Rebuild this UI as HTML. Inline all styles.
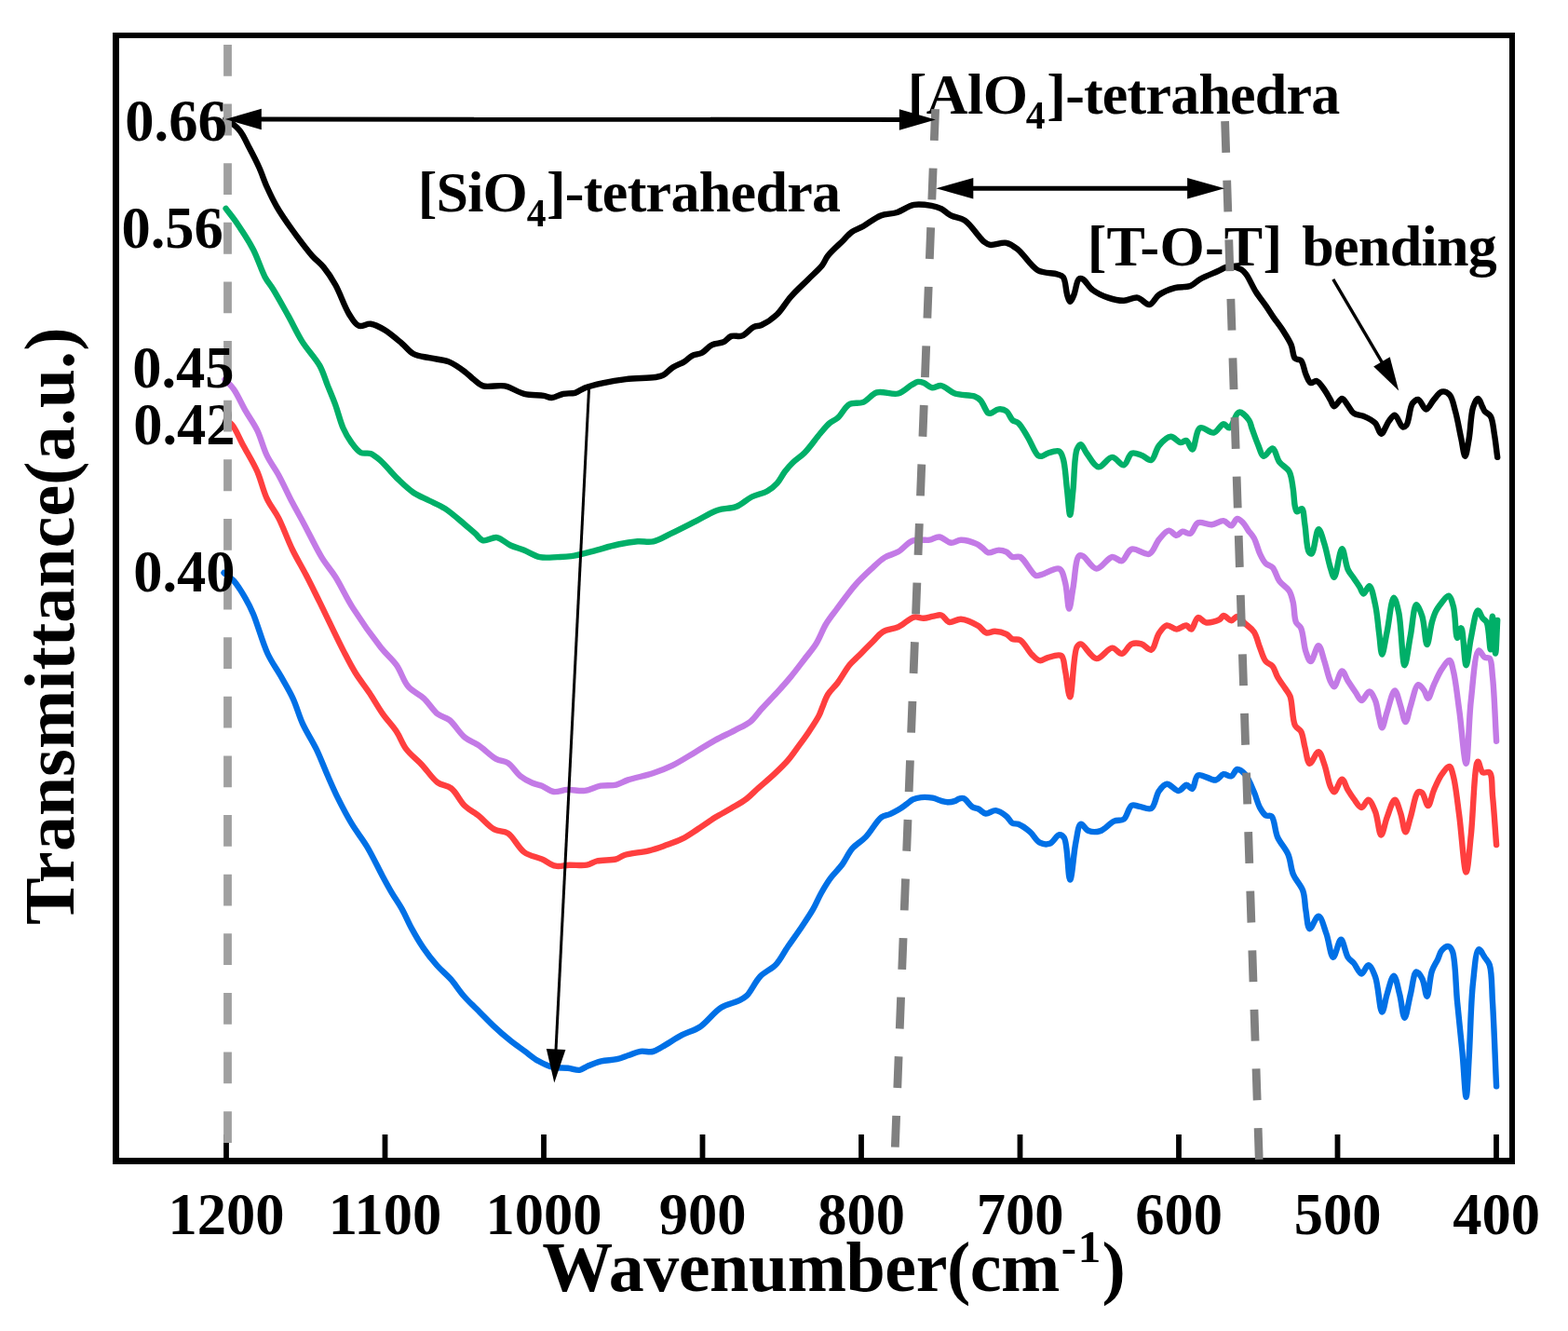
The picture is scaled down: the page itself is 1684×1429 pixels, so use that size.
<!DOCTYPE html><html><head><meta charset="utf-8"><title>FTIR spectra</title><style>html,body{margin:0;padding:0;background:#fff;}svg{display:block;}</style></head><body>
<svg width="1684" height="1429" viewBox="0 0 1684 1429">
<rect x="0" y="0" width="1684" height="1429" fill="#fff"/>
<g fill="#000"><rect x="121" y="35" width="7" height="1215"/><rect x="121" y="1243" width="1506" height="7"/><rect x="121" y="35" width="1506" height="6"/><rect x="1621" y="35" width="6" height="1215"/>
<rect x="240.1" y="1218" width="5.8" height="26"/>
<rect x="410.6" y="1218" width="5.8" height="26"/>
<rect x="581.1" y="1218" width="5.8" height="26"/>
<rect x="751.6" y="1218" width="5.8" height="26"/>
<rect x="922.1" y="1218" width="5.8" height="26"/>
<rect x="1092.6" y="1218" width="5.8" height="26"/>
<rect x="1263.1" y="1218" width="5.8" height="26"/>
<rect x="1433.6" y="1218" width="5.8" height="26"/>
<rect x="1604.1" y="1218" width="5.8" height="26"/>
</g>
<g fill="none" stroke-width="6.4" stroke-linejoin="round" stroke-linecap="round">
<path stroke="#0070E6" d="M240.5,615.0C244.0,617.8 247.6,619.8 251.0,623.5C255.4,628.3 260.0,636.2 263.6,642.4C266.9,648.1 269.0,652.2 272.0,659.2C276.6,670.0 281.7,689.4 287.3,701.5C291.8,711.2 297.3,718.4 302.0,726.7C306.4,734.5 310.8,741.6 314.6,749.8C318.6,758.4 321.0,768.1 325.1,777.1C329.3,786.3 335.3,795.0 339.8,804.4C344.4,813.9 348.3,824.6 352.4,833.8C356.0,842.0 359.0,848.9 362.9,856.9C367.3,865.7 372.3,875.4 377.6,884.2C382.8,892.9 389.1,900.4 394.4,909.3C400.1,918.9 405.7,930.9 410.5,939.9C414.3,947.0 417.4,952.7 421.0,958.8C424.4,964.6 428.1,969.6 431.5,975.6C435.2,982.1 438.2,989.7 442.0,996.6C445.9,1003.7 450.0,1010.9 454.6,1017.6C459.1,1024.2 464.2,1030.7 469.3,1036.5C474.0,1041.9 479.3,1045.8 484.0,1051.2C489.1,1056.9 493.4,1064.0 498.7,1070.0C503.9,1075.9 510.1,1081.5 515.5,1086.9C520.6,1092.0 525.1,1096.8 530.2,1101.6C535.5,1106.6 541.3,1111.7 547.0,1116.3C552.5,1120.8 558.4,1124.8 563.8,1128.8C568.8,1132.5 573.4,1136.5 578.5,1139.3C583.3,1142.0 588.0,1144.4 593.2,1145.6C598.5,1146.9 604.8,1146.1 610.0,1146.7C614.5,1147.2 618.8,1149.3 622.5,1148.8C625.7,1148.3 627.7,1146.0 631.0,1144.6C635.2,1142.8 640.5,1140.5 645.6,1139.3C650.9,1138.0 657.3,1138.4 662.4,1137.2C667.0,1136.2 670.8,1134.4 675.0,1133.0C679.2,1131.6 683.3,1129.5 687.6,1128.8C691.9,1128.1 696.9,1129.9 701.0,1129.0C704.8,1128.1 707.5,1126.0 711.5,1123.8C717.4,1120.6 725.6,1114.8 732.5,1111.2C738.9,1107.9 745.1,1106.9 751.4,1102.8C759.1,1097.8 766.7,1086.6 774.5,1081.8C780.8,1077.9 788.4,1076.9 793.4,1074.4C796.9,1072.7 798.9,1071.9 801.8,1069.2C806.5,1064.8 810.9,1054.0 816.5,1048.2C821.5,1043.0 828.5,1040.7 833.3,1035.6C838.3,1030.3 841.5,1023.1 845.9,1016.7C850.6,1009.9 855.9,1002.6 860.6,995.7C865.0,989.1 869.6,982.5 873.2,976.2C876.5,970.5 878.5,965.0 881.6,959.5C884.8,953.8 888.2,948.0 892.1,942.7C895.9,937.5 900.8,933.2 904.6,928.0C908.5,922.7 911.0,916.1 915.2,911.2C919.4,906.3 925.0,903.6 929.8,898.6C935.5,892.7 941.4,881.2 946.7,877.4C949.8,875.1 952.7,875.4 955.7,874.1C958.7,872.8 961.7,871.3 964.6,869.6C967.7,867.8 970.8,865.4 973.6,863.4C976.0,861.7 977.8,859.6 980.3,858.4C983.0,857.1 986.0,856.4 989.3,856.1C993.1,855.7 997.7,856.0 1001.6,856.7C1005.2,857.4 1008.6,859.3 1011.7,860.1C1014.1,860.7 1016.2,861.2 1018.4,861.2C1020.6,861.2 1023.0,860.8 1025.1,860.1C1027.1,859.5 1028.9,857.7 1030.7,857.3C1032.2,856.9 1033.6,856.6 1035.2,857.3C1037.9,858.4 1041.1,864.3 1044.1,866.2C1046.3,867.6 1048.5,867.4 1050.8,868.5C1053.4,869.7 1055.8,873.1 1058.7,873.5C1061.9,873.9 1065.8,869.8 1069.4,870.1C1073.3,870.5 1077.9,873.9 1081.0,876.4C1083.7,878.5 1084.9,882.4 1087.3,883.7C1089.2,884.8 1091.3,883.9 1093.6,884.8C1097.2,886.2 1102.4,889.9 1106.2,893.2C1110.1,896.5 1112.8,902.7 1116.7,904.7C1119.9,906.3 1123.9,906.9 1127.2,905.8C1131.0,904.6 1134.7,896.6 1137.7,896.3C1139.7,896.1 1141.4,897.2 1142.9,899.5C1146.9,905.7 1147.0,944.6 1149.2,944.6C1151.3,944.6 1153.1,914.7 1155.5,903.7C1157.1,896.1 1157.9,885.7 1160.8,884.8C1163.0,884.2 1165.8,890.8 1169.2,892.1C1172.8,893.4 1177.6,893.4 1181.8,892.1C1186.8,890.5 1191.8,883.6 1196.5,881.6C1200.1,880.0 1204.1,881.6 1207.0,879.5C1210.7,876.8 1211.9,866.5 1215.4,864.8C1217.9,863.6 1220.7,865.4 1223.8,865.9C1227.6,866.5 1233.1,869.8 1236.4,868.0C1240.6,865.7 1241.4,853.7 1244.8,849.1C1247.3,845.7 1250.0,842.0 1253.2,841.7C1256.9,841.3 1262.1,849.3 1265.8,849.1C1268.9,848.9 1271.6,842.9 1274.2,842.8C1276.4,842.7 1278.7,847.5 1280.5,847.0C1283.1,846.2 1282.9,834.1 1286.7,832.3C1290.9,830.3 1300.7,838.4 1305.6,837.5C1309.2,836.8 1311.1,831.8 1314.0,831.2C1316.7,830.7 1320.0,834.1 1322.4,833.3C1324.9,832.5 1326.3,826.4 1328.7,826.0C1331.2,825.6 1334.5,828.4 1337.1,831.2C1340.9,835.3 1344.1,844.1 1346.8,850.3C1349.3,856.0 1350.6,862.6 1353.1,867.1C1355.0,870.5 1357.0,874.0 1359.4,875.5C1361.3,876.6 1363.9,874.9 1365.7,876.5C1369.0,879.5 1369.0,891.7 1372.0,898.6C1375.0,905.4 1380.7,910.8 1383.5,917.5C1386.3,924.1 1386.1,932.0 1388.8,938.5C1391.4,944.9 1397.0,949.9 1399.3,956.3C1401.6,962.8 1401.2,970.4 1402.4,977.3C1403.6,984.0 1404.1,996.7 1406.6,997.2C1408.9,997.7 1413.2,983.3 1416.1,983.6C1419.3,983.9 1422.0,995.7 1424.5,1002.5C1427.3,1010.2 1429.0,1027.5 1431.8,1027.7C1434.3,1027.9 1437.6,1008.7 1440.2,1008.8C1442.8,1008.9 1444.7,1023.3 1447.6,1027.7C1449.5,1030.6 1451.7,1031.5 1453.9,1034.0C1456.6,1037.2 1459.6,1045.5 1462.3,1045.5C1464.8,1045.5 1467.3,1035.9 1469.6,1036.1C1472.2,1036.3 1474.9,1043.1 1477.0,1048.7C1480.4,1057.7 1481.8,1086.4 1484.3,1086.5C1486.1,1086.6 1487.6,1073.9 1489.6,1067.6C1491.7,1061.0 1494.6,1047.5 1496.9,1047.6C1499.2,1047.7 1501.3,1060.5 1503.2,1067.6C1505.3,1075.5 1506.6,1092.8 1508.5,1092.8C1510.4,1092.8 1512.7,1075.9 1514.8,1067.6C1516.9,1059.4 1518.2,1044.1 1521.1,1043.4C1522.9,1043.0 1525.7,1047.5 1527.4,1050.8C1529.9,1055.5 1531.0,1069.8 1532.6,1069.7C1534.5,1069.6 1535.4,1049.6 1537.9,1042.4C1539.6,1037.3 1542.4,1033.7 1544.2,1029.8C1545.8,1026.4 1546.3,1022.6 1548.4,1020.3C1550.3,1018.2 1553.7,1015.7 1555.7,1016.1C1557.5,1016.4 1558.7,1018.4 1559.9,1021.4C1563.3,1029.9 1563.3,1058.0 1565.1,1076.0C1566.8,1093.7 1568.8,1111.3 1570.4,1128.5C1572.0,1145.2 1573.4,1177.8 1574.6,1177.8C1575.8,1177.8 1576.7,1151.3 1577.7,1134.8C1579.1,1112.3 1579.6,1076.3 1582.0,1055.0C1583.6,1040.7 1584.9,1020.1 1588.2,1019.3C1590.0,1018.9 1592.5,1024.9 1594.5,1027.7C1596.4,1030.5 1598.4,1032.0 1599.8,1036.1C1602.5,1044.3 1602.0,1060.0 1603.0,1076.0C1604.5,1100.0 1605.7,1136.2 1607.1,1166.3"/>
<path stroke="#FF3F3F" d="M243.0,452.0C245.0,453.2 246.9,453.5 248.9,455.6C252.9,459.8 257.1,470.7 261.5,478.7C266.2,487.4 272.0,496.6 276.2,506.0C280.4,515.5 282.5,526.6 286.7,535.4C290.4,543.2 295.2,548.4 299.3,556.4C304.3,566.2 308.9,579.5 314.0,590.0C318.7,599.7 323.9,608.0 328.7,617.3C333.7,626.9 337.8,635.4 343.4,646.6C350.8,661.6 362.0,685.5 369.2,699.4C374.0,708.7 377.2,715.1 381.8,722.5C386.3,729.8 391.7,736.3 396.5,743.5C401.5,751.0 406.1,759.4 411.2,766.6C415.9,773.3 421.6,779.0 425.9,785.5C430.0,791.6 432.0,798.6 436.4,804.4C441.0,810.5 447.7,815.4 453.2,821.2C458.9,827.2 464.1,835.8 470.0,840.1C474.7,843.5 480.1,842.9 484.6,846.4C490.1,850.6 494.0,860.2 499.3,865.3C503.9,869.7 509.0,871.9 514.0,875.8C519.5,880.2 525.0,887.3 530.8,890.4C535.6,893.0 540.8,891.6 545.5,894.6C551.7,898.6 556.5,910.3 563.1,915.0C568.8,919.1 576.1,919.8 582.0,922.4C587.3,924.7 591.7,928.7 596.7,929.7C601.5,930.7 606.2,928.9 611.4,928.7C617.3,928.5 625.0,929.7 630.3,928.7C634.4,927.9 636.6,925.5 640.8,924.5C646.5,923.1 656.5,923.9 661.8,922.4C665.3,921.4 666.5,919.4 670.2,918.2C676.5,916.1 689.0,915.2 696.8,913.3C703.1,911.7 707.9,910.0 713.6,908.0C719.7,905.8 726.5,903.7 732.5,900.7C738.4,897.7 743.6,893.9 749.3,890.2C755.4,886.2 762.0,881.4 768.2,877.6C773.9,874.1 779.4,871.4 785.0,868.1C790.6,864.7 796.8,861.4 801.8,857.6C806.5,854.0 809.9,850.1 814.4,846.1C819.6,841.5 825.9,836.4 831.2,831.4C836.3,826.6 841.4,821.9 845.9,816.7C850.5,811.4 854.5,805.3 858.5,799.9C862.2,794.9 865.6,790.3 869.0,785.2C872.6,779.8 877.1,773.1 879.5,768.4C881.1,765.2 881.6,763.2 882.9,760.0C884.7,755.8 886.4,750.0 889.2,745.5C892.0,741.0 896.2,737.7 899.7,733.0C903.9,727.4 908.3,718.9 912.3,714.0C915.2,710.5 917.4,708.9 920.7,705.6C925.3,701.0 932.5,693.7 937.5,688.8C941.4,684.9 943.7,681.0 948.0,678.4C952.7,675.6 959.4,675.6 964.8,673.1C970.6,670.4 976.5,663.8 981.6,662.6C985.3,661.7 988.5,663.9 992.0,663.7C995.5,663.5 999.2,662.1 1002.5,661.6C1005.5,661.1 1008.4,659.7 1011.0,660.5C1014.0,661.4 1016.0,667.1 1019.3,667.9C1022.9,668.8 1027.4,664.4 1032.0,664.7C1037.7,665.1 1046.0,669.2 1050.8,672.1C1054.4,674.3 1056.1,678.6 1059.2,679.4C1062.0,680.2 1065.1,677.6 1068.4,677.7C1072.3,677.8 1077.7,679.2 1081.0,680.9C1083.6,682.2 1084.9,685.0 1087.3,686.1C1089.8,687.2 1092.9,685.6 1095.7,687.2C1100.0,689.6 1104.3,699.0 1108.3,702.9C1111.2,705.7 1113.8,708.8 1116.7,709.2C1119.4,709.6 1121.9,706.9 1125.1,706.1C1129.3,705.0 1136.6,701.9 1139.8,704.0C1143.1,706.2 1142.6,713.7 1144.0,719.7C1145.8,727.8 1147.4,748.3 1149.2,748.3C1151.6,748.2 1152.6,701.3 1156.6,694.5C1157.8,692.4 1159.0,691.3 1160.8,691.4C1164.6,691.6 1171.8,706.7 1177.6,707.1C1183.0,707.5 1189.4,695.7 1194.4,695.6C1198.3,695.5 1201.6,702.3 1204.9,701.9C1208.6,701.4 1211.5,693.0 1215.4,691.4C1218.6,690.1 1222.5,690.5 1225.9,691.4C1229.5,692.4 1233.5,698.6 1236.4,697.7C1240.1,696.6 1241.5,684.4 1244.8,679.8C1247.3,676.2 1250.0,672.1 1253.2,671.4C1256.3,670.8 1260.2,675.6 1263.7,675.6C1267.2,675.6 1271.4,671.0 1274.2,671.4C1276.3,671.7 1277.7,675.9 1279.4,675.6C1281.9,675.1 1283.7,663.7 1286.7,663.0C1289.1,662.4 1291.8,667.7 1295.1,668.3C1299.2,669.0 1306.5,666.9 1309.8,665.1C1311.8,664.0 1312.3,661.2 1314.0,661.0C1316.2,660.8 1319.8,666.2 1322.4,666.2C1324.7,666.2 1326.5,661.9 1328.7,662.0C1331.4,662.2 1334.2,666.8 1337.1,669.4C1340.2,672.3 1344.2,674.6 1346.8,678.5C1349.8,683.0 1350.9,689.9 1353.1,695.3C1355.1,700.4 1356.6,706.6 1359.4,710.0C1361.5,712.6 1364.7,712.8 1366.7,715.2C1369.1,718.1 1369.9,722.9 1372.0,726.7C1374.3,730.9 1378.0,735.5 1380.4,739.3C1382.4,742.4 1384.1,743.8 1385.6,747.7C1388.2,754.6 1387.7,772.7 1390.9,778.9C1392.6,782.2 1395.6,782.3 1397.2,785.2C1399.5,789.2 1399.9,796.3 1401.4,802.0C1403.0,807.9 1404.0,819.3 1406.6,819.8C1409.0,820.2 1413.4,806.9 1416.1,807.2C1418.7,807.5 1420.5,815.7 1422.4,820.9C1424.8,827.5 1426.4,838.8 1428.7,844.0C1430.0,846.9 1431.3,850.3 1432.9,850.3C1435.2,850.3 1438.8,836.5 1441.3,836.6C1443.6,836.7 1445.4,844.6 1447.6,848.2C1449.6,851.5 1451.5,854.5 1453.9,857.6C1456.4,860.8 1459.6,867.1 1462.3,867.1C1464.8,867.1 1467.3,858.5 1469.6,858.7C1472.2,858.9 1474.9,866.2 1477.0,871.3C1479.8,878.1 1481.0,896.4 1483.3,896.5C1485.3,896.6 1487.2,883.8 1489.6,877.6C1492.1,871.2 1495.4,858.7 1498.0,858.7C1500.3,858.7 1502.5,868.1 1504.3,873.4C1506.4,879.5 1507.6,893.2 1509.5,893.3C1511.2,893.4 1512.9,883.6 1514.8,877.6C1517.3,869.8 1519.8,852.2 1523.2,850.3C1524.5,849.5 1526.1,850.2 1527.4,851.3C1529.8,853.3 1531.7,865.1 1533.7,865.0C1535.9,864.9 1537.6,853.7 1540.0,848.2C1542.5,842.5 1545.2,835.8 1548.4,831.4C1550.9,827.9 1554.6,822.6 1556.7,823.0C1558.7,823.4 1559.6,828.7 1560.9,833.5C1563.4,842.7 1565.1,860.2 1567.2,875.5C1569.7,893.9 1572.3,936.4 1574.6,936.4C1576.5,936.4 1578.1,912.1 1579.8,896.5C1582.2,874.7 1583.4,818.3 1587.2,817.7C1588.7,817.4 1589.8,827.6 1592.4,829.3C1594.4,830.6 1598.0,827.7 1599.8,829.3C1603.1,832.2 1602.0,844.6 1603.0,854.5C1604.5,868.8 1605.7,889.5 1607.1,907.0"/>
<path stroke="#C37AE6" d="M241.5,407.3C244.7,410.8 247.9,413.4 251.0,417.8C255.3,423.8 259.3,433.4 263.6,440.9C267.7,448.1 272.5,454.3 276.2,461.9C280.3,470.2 282.6,480.9 286.7,489.2C290.4,496.8 295.1,502.5 299.3,510.2C304.2,519.1 309.2,530.4 314.0,539.6C318.3,547.8 322.0,554.1 326.6,562.7C332.3,573.3 339.3,588.2 345.5,598.4C350.4,606.5 355.2,611.4 360.2,619.3C366.3,629.0 371.7,641.3 379.1,652.9C387.7,666.4 400.3,684.1 409.1,695.2C415.3,703.0 421.0,707.2 425.9,714.1C430.9,721.2 433.2,731.1 438.5,737.2C443.2,742.7 450.1,745.0 455.3,749.8C460.6,754.8 464.9,762.6 470.0,766.6C474.0,769.7 478.3,769.7 482.5,772.9C488.1,777.2 493.5,787.1 499.3,791.8C504.1,795.7 508.9,796.8 514.0,800.2C520.0,804.2 527.0,811.7 532.9,814.9C537.3,817.3 541.5,816.6 545.5,819.1C550.3,822.2 554.2,829.5 558.9,833.2C562.9,836.4 567.4,838.7 571.5,840.5C575.1,842.1 578.4,842.3 582.0,843.7C586.1,845.3 590.1,849.3 594.6,850.0C599.2,850.7 604.1,848.1 609.3,847.9C615.2,847.6 622.1,849.7 628.2,848.9C634.0,848.2 639.3,844.7 645.0,843.7C650.5,842.7 656.7,843.8 661.8,842.6C666.4,841.5 669.4,839.1 674.4,837.4C681.6,835.0 692.7,833.0 701.0,830.3C708.5,827.8 714.8,825.4 722.0,821.9C730.2,817.9 739.2,811.9 747.2,807.2C754.5,802.9 761.1,798.5 768.2,794.6C775.1,790.8 782.6,787.6 789.2,784.1C795.2,780.9 801.2,778.6 806.0,774.7C810.7,770.9 813.6,765.8 818.0,761.0C823.0,755.5 829.3,749.2 834.6,743.4C839.7,737.8 844.5,732.4 849.3,726.6C854.3,720.6 859.3,713.8 864.0,707.7C868.4,702.0 872.8,697.1 876.6,691.0C880.6,684.6 883.3,676.2 887.1,670.0C890.4,664.5 893.9,660.3 897.6,655.3C901.6,649.9 906.4,643.4 910.2,638.5C913.2,634.6 915.2,631.8 918.6,628.0C923.1,622.9 929.9,616.3 935.4,611.2C940.4,606.6 944.9,601.8 950.0,598.6C954.7,595.7 960.1,595.1 964.8,592.3C969.9,589.3 974.7,582.6 979.5,580.7C983.1,579.3 986.7,579.9 990.0,579.7C993.0,579.6 995.5,580.1 998.4,579.7C1001.7,579.2 1005.2,576.2 1008.8,576.5C1012.9,576.8 1017.3,582.4 1021.4,582.8C1025.0,583.1 1028.1,579.8 1032.0,579.7C1036.9,579.6 1044.6,582.1 1048.7,583.9C1051.4,585.1 1052.9,586.6 1055.0,588.1C1057.1,589.7 1058.7,592.7 1061.3,593.3C1064.4,594.0 1069.1,590.6 1072.6,590.6C1075.6,590.6 1078.5,591.4 1081.0,592.7C1083.4,593.9 1084.9,597.1 1087.3,598.0C1089.8,598.9 1092.8,596.6 1095.7,598.0C1100.9,600.4 1107.8,616.2 1112.5,617.9C1114.8,618.8 1116.2,617.5 1118.8,616.9C1123.4,615.8 1133.5,608.7 1137.7,610.6C1141.5,612.3 1142.4,619.5 1144.0,625.3C1146.2,633.1 1146.7,653.6 1148.2,653.6C1149.5,653.6 1150.9,639.8 1152.4,631.6C1154.3,621.3 1155.1,599.9 1158.7,596.9C1159.9,595.9 1161.2,596.2 1162.9,596.9C1166.5,598.3 1172.4,610.3 1177.6,610.6C1182.9,610.9 1189.3,598.7 1194.4,598.0C1198.2,597.5 1201.7,603.0 1204.9,602.2C1208.8,601.2 1210.8,591.0 1215.4,589.6C1220.4,588.0 1229.4,596.6 1234.3,594.8C1239.1,593.0 1241.0,583.5 1244.8,579.1C1248.1,575.3 1251.9,569.9 1255.3,569.6C1258.2,569.4 1261.1,574.9 1263.7,574.9C1266.0,574.9 1267.6,571.1 1270.0,570.7C1272.5,570.3 1275.9,573.7 1278.4,572.8C1281.6,571.6 1282.9,562.8 1286.7,561.2C1290.6,559.6 1296.7,563.7 1301.4,563.3C1305.8,562.9 1310.3,558.7 1314.0,559.1C1317.2,559.5 1319.9,564.8 1322.4,564.4C1324.8,564.0 1326.5,557.3 1328.7,557.0C1330.7,556.7 1333.1,559.3 1335.0,561.2C1337.1,563.3 1338.6,566.6 1340.5,569.3C1342.5,572.1 1344.9,574.3 1346.8,577.7C1349.3,582.2 1350.8,589.6 1353.1,594.5C1355.0,598.5 1356.8,602.5 1359.4,605.0C1361.5,607.1 1364.5,606.9 1366.7,609.2C1369.7,612.4 1371.0,619.6 1374.1,623.9C1377.0,628.0 1382.1,630.4 1384.6,634.4C1386.9,638.2 1387.7,642.2 1388.8,647.0C1390.2,653.1 1389.8,663.2 1391.9,668.0C1393.2,671.0 1395.7,671.2 1397.2,674.3C1399.8,679.7 1400.1,693.0 1402.4,699.5C1403.9,703.9 1405.7,710.0 1407.7,710.0C1410.2,710.0 1413.6,693.1 1416.1,693.2C1418.5,693.3 1420.4,704.1 1422.4,710.0C1424.6,716.6 1426.4,726.2 1428.7,731.0C1430.0,733.8 1431.4,737.3 1432.9,737.2C1435.3,737.0 1438.6,720.6 1441.3,720.5C1443.5,720.4 1445.3,727.4 1447.6,731.0C1450.2,735.0 1453.4,739.8 1456.0,743.5C1458.2,746.6 1460.0,751.9 1462.3,752.0C1464.8,752.1 1468.2,742.3 1470.7,742.5C1473.1,742.7 1475.3,748.1 1477.0,752.0C1479.2,757.1 1479.8,765.5 1481.2,770.8C1482.2,774.8 1483.1,781.3 1484.3,781.3C1485.8,781.3 1487.6,770.5 1489.6,764.5C1492.0,757.4 1495.4,741.4 1498.0,741.4C1500.2,741.4 1502.4,752.6 1504.3,758.2C1506.2,763.8 1507.8,775.0 1509.5,775.0C1511.3,775.0 1512.8,764.2 1514.8,758.2C1517.2,751.1 1520.0,735.8 1523.2,735.1C1525.1,734.7 1527.8,739.0 1529.5,741.4C1531.3,743.9 1532.2,749.8 1533.7,749.8C1535.6,749.7 1537.7,740.1 1540.0,735.1C1542.5,729.7 1545.3,723.0 1548.4,718.4C1551.0,714.6 1554.6,708.5 1556.7,708.9C1558.8,709.3 1559.6,715.3 1560.9,720.5C1563.3,730.0 1565.1,747.3 1567.2,762.4C1569.7,780.0 1572.5,819.9 1574.6,819.8C1576.8,819.7 1577.3,773.2 1579.8,752.0C1582.0,733.0 1583.9,699.6 1588.2,698.4C1590.0,697.9 1592.2,704.5 1594.5,705.8C1596.2,706.8 1598.4,705.4 1599.8,706.8C1602.4,709.5 1602.0,718.0 1603.0,726.7C1604.8,742.7 1605.7,772.7 1607.1,795.7"/>
<path stroke="#00AF68" d="M242.6,223.9C246.8,229.5 250.9,234.3 255.2,240.7C260.6,248.6 267.1,258.5 272.0,268.0C276.9,277.4 280.5,289.8 284.6,297.4C287.4,302.6 289.8,304.9 293.0,310.0C297.8,317.7 304.4,329.8 309.8,339.4C314.9,348.6 319.0,357.8 324.5,366.6C330.1,375.6 338.7,384.1 343.4,392.6C347.3,399.7 349.0,406.6 351.8,413.6C354.6,420.6 357.5,427.2 360.2,434.6C363.1,442.6 365.4,452.7 368.6,459.8C371.1,465.5 373.8,470.1 377.0,474.5C380.1,478.8 383.6,484.0 387.5,486.0C390.7,487.6 394.7,485.8 398.0,487.0C401.7,488.4 404.7,491.1 408.5,494.4C414.1,499.3 421.1,508.4 427.4,514.4C433.0,519.8 438.3,525.1 444.2,529.0C449.6,532.6 455.4,534.7 461.0,537.5C466.6,540.3 472.0,542.3 477.7,545.9C484.5,550.3 492.7,557.7 498.7,562.7C503.2,566.5 506.9,569.8 510.5,572.9C513.5,575.6 515.4,579.4 518.9,580.3C522.9,581.3 528.8,576.4 533.6,577.1C538.7,577.9 543.3,583.2 548.3,585.5C553.1,587.7 558.0,588.8 563.0,590.8C568.4,593.0 573.9,596.9 579.8,598.1C585.8,599.3 592.8,598.3 598.7,598.1C603.9,597.9 608.0,597.9 613.4,597.1C620.3,596.1 628.5,593.8 636.5,591.8C645.2,589.6 655.2,586.3 663.8,584.5C671.2,582.9 678.2,581.8 684.8,581.3C690.7,580.9 696.0,582.5 701.6,581.3C707.9,580.0 713.7,576.1 720.5,572.9C728.8,569.0 739.0,563.7 747.7,559.3C755.7,555.3 763.2,550.3 770.8,547.7C777.5,545.4 784.4,546.4 790.5,544.0C796.6,541.6 801.6,536.3 807.3,533.5C812.8,530.8 819.3,529.9 824.1,527.2C828.2,524.9 831.5,522.2 834.6,518.8C837.9,515.2 840.1,510.0 843.0,506.2C845.7,502.7 848.2,499.8 851.4,496.7C855.1,493.1 859.7,490.5 864.0,486.2C869.5,480.7 875.8,471.3 880.8,465.5C884.6,461.0 887.8,456.9 891.3,454.0C894.1,451.7 896.8,451.2 899.7,448.7C903.7,445.2 907.4,436.7 912.3,434.0C916.6,431.6 922.3,433.8 927.0,431.9C932.2,429.8 935.9,423.1 941.7,421.4C948.3,419.5 958.2,424.3 964.8,422.5C970.5,421.0 975.6,415.2 979.5,413.0C982.0,411.6 983.7,410.2 985.8,409.9C987.8,409.6 989.9,410.2 992.0,411.0C994.7,412.0 997.4,415.6 1000.5,416.2C1003.7,416.8 1007.3,413.5 1011.0,414.1C1015.6,414.9 1020.1,420.6 1025.6,422.5C1031.8,424.6 1041.8,423.8 1046.6,425.6C1049.5,426.7 1051.0,427.7 1053.0,429.8C1056.0,432.9 1058.9,442.1 1061.3,443.5C1062.3,444.1 1063.0,443.9 1064.2,443.6C1066.3,443.1 1069.7,439.7 1072.6,439.4C1075.3,439.1 1078.7,439.8 1081.0,441.5C1083.7,443.4 1084.9,448.9 1087.3,451.0C1089.2,452.7 1091.5,452.2 1093.6,454.1C1097.1,457.1 1100.7,464.3 1104.1,469.9C1107.7,475.9 1111.4,486.3 1114.6,488.8C1116.1,489.9 1117.3,490.0 1118.8,489.8C1120.7,489.6 1122.6,487.5 1125.1,486.7C1128.5,485.6 1134.9,483.2 1137.7,484.6C1140.1,485.8 1140.7,489.1 1141.9,493.0C1144.1,500.3 1144.8,516.1 1146.1,526.6C1147.2,535.9 1148.2,552.8 1149.2,552.8C1150.3,552.8 1151.3,536.5 1152.4,526.6C1153.8,513.8 1153.6,489.9 1156.6,482.5C1157.8,479.6 1159.3,477.1 1160.8,477.2C1162.7,477.3 1164.5,483.3 1167.1,486.7C1170.5,491.2 1175.1,500.8 1179.7,501.4C1184.2,501.9 1189.7,491.0 1194.4,490.9C1198.7,490.8 1203.5,500.0 1207.0,499.3C1210.5,498.6 1211.9,488.2 1215.4,486.7C1218.4,485.5 1222.5,487.6 1225.9,488.8C1229.5,490.0 1233.5,494.9 1236.4,494.0C1240.0,492.8 1241.1,482.6 1244.8,478.3C1248.2,474.3 1253.3,469.0 1257.4,468.8C1261.0,468.6 1264.8,474.8 1267.9,475.1C1270.2,475.4 1272.3,472.4 1274.2,473.0C1276.7,473.9 1278.5,482.7 1280.5,482.5C1283.5,482.1 1284.2,461.6 1288.9,459.4C1292.6,457.7 1299.2,465.4 1303.5,464.6C1307.6,463.8 1310.9,455.4 1314.0,455.2C1316.3,455.0 1318.2,459.9 1320.3,459.4C1323.7,458.7 1326.9,443.3 1330.8,442.6C1334.0,442.1 1339.0,447.8 1341.3,451.0C1343.3,453.8 1343.4,456.8 1344.7,460.4C1346.5,465.2 1348.8,472.1 1351.0,477.2C1353.0,481.8 1354.6,489.3 1357.3,489.8C1359.9,490.3 1364.0,480.9 1366.7,481.4C1369.8,482.0 1371.0,491.9 1374.1,496.1C1377.0,500.1 1382.2,501.9 1384.6,506.3C1387.4,511.3 1387.7,518.9 1388.8,525.2C1389.8,531.5 1389.8,539.8 1390.9,544.1C1391.5,546.4 1391.8,548.9 1393.0,549.3C1394.2,549.7 1396.9,545.6 1398.2,546.2C1400.4,547.2 1400.3,556.6 1401.4,563.0C1402.8,571.4 1403.1,588.4 1405.6,592.4C1406.5,593.8 1407.7,594.9 1408.7,594.5C1411.4,593.5 1413.5,568.3 1416.1,568.2C1418.1,568.1 1420.5,578.0 1422.4,584.0C1424.8,591.4 1426.6,602.7 1428.7,609.2C1430.1,613.5 1431.4,619.8 1432.9,619.7C1435.4,619.6 1438.7,589.2 1441.3,589.2C1443.5,589.2 1445.0,605.6 1447.6,611.3C1449.4,615.3 1451.8,617.6 1453.9,620.7C1456.0,623.9 1458.4,627.2 1460.2,630.2C1461.8,632.8 1462.8,637.4 1464.4,637.5C1466.2,637.6 1468.9,628.8 1470.7,629.1C1473.3,629.5 1475.3,641.6 1477.0,649.1C1479.1,658.3 1479.9,671.0 1481.2,680.6C1482.3,688.6 1483.0,702.5 1484.3,702.6C1485.7,702.7 1487.7,687.4 1489.6,678.5C1491.9,667.5 1494.3,641.9 1496.9,641.7C1498.6,641.6 1500.7,650.5 1502.2,657.5C1505.1,670.5 1506.0,714.1 1508.5,714.2C1510.4,714.3 1512.7,693.4 1514.8,682.7C1516.9,671.7 1518.3,649.5 1521.1,649.1C1522.9,648.8 1525.7,656.4 1527.4,661.7C1530.0,669.5 1530.7,692.1 1532.6,692.1C1534.3,692.1 1536.0,674.5 1537.9,668.0C1539.2,663.4 1540.2,660.0 1542.0,656.4C1543.7,653.0 1546.1,649.9 1548.4,647.0C1550.6,644.3 1553.7,639.2 1555.7,639.6C1557.9,640.0 1559.5,646.2 1560.9,651.2C1563.2,659.4 1563.1,684.5 1565.1,684.8C1566.3,685.0 1568.1,674.1 1569.3,674.3C1571.6,674.6 1572.7,714.2 1574.6,714.2C1576.2,714.2 1577.7,694.6 1579.8,684.8C1581.9,675.0 1584.4,655.8 1587.2,655.4C1588.8,655.1 1590.6,661.6 1592.4,663.8C1593.8,665.5 1595.4,665.7 1596.6,668.0C1599.2,673.2 1599.8,697.4 1600.8,697.4C1601.9,697.4 1602.1,661.7 1602.9,661.7C1603.8,661.7 1605.2,701.6 1606.1,701.6C1606.9,701.6 1607.5,677.8 1608.2,665.9"/>
<path stroke="#000000" d="M242.6,127.3C247.5,131.5 253.2,134.8 257.3,139.9C261.7,145.2 264.4,152.3 267.8,158.8C271.4,165.6 275.1,172.7 278.3,179.8C281.4,186.7 283.6,193.9 286.7,200.8C289.9,207.9 293.0,214.6 297.2,221.8C301.9,230.0 307.9,238.5 314.0,247.0C320.5,256.0 328.7,267.1 335.0,274.3C339.5,279.5 343.6,282.1 347.6,286.9C352.1,292.4 356.1,298.5 360.2,305.8C365.3,314.8 369.9,329.3 374.9,337.2C378.3,342.6 381.2,348.3 385.4,349.8C389.1,351.2 393.7,347.2 398.0,347.7C402.8,348.3 407.7,351.0 412.7,354.0C418.8,357.6 426.0,364.0 431.6,368.7C436.3,372.6 439.3,377.4 444.2,380.0C449.1,382.6 455.1,382.9 461.0,384.2C467.6,385.7 475.5,385.8 482.0,388.4C488.5,391.0 495.2,396.1 500.0,399.7C503.5,402.3 505.4,404.7 508.4,407.1C511.6,409.6 514.4,413.0 518.9,414.4C524.9,416.3 534.6,413.0 542.0,414.4C549.3,415.8 555.9,421.1 563.0,422.8C569.9,424.5 578.6,424.0 584.0,424.9C587.5,425.5 589.3,427.1 592.4,427.0C596.2,426.9 600.7,423.7 605.0,422.8C609.1,422.0 613.7,422.9 617.6,421.8C621.4,420.7 624.0,418.1 628.1,416.5C633.4,414.5 640.2,412.8 647.0,411.3C654.8,409.6 663.3,408.1 672.2,407.1C682.1,405.9 696.6,406.1 703.7,405.0C707.4,404.4 709.2,404.3 712.0,402.9C715.5,401.2 718.7,396.9 722.5,394.5C726.4,392.0 731.4,390.5 735.1,388.2C738.3,386.2 740.4,383.5 743.5,381.9C746.7,380.3 750.7,380.5 754.0,378.7C757.7,376.8 760.6,372.2 764.5,370.3C768.3,368.4 773.5,368.9 777.1,367.2C780.4,365.7 782.3,362.0 785.5,360.9C788.8,359.7 793.1,361.9 796.8,360.6C801.1,359.1 805.4,353.0 809.4,351.1C812.3,349.7 814.7,350.4 817.8,349.0C822.6,346.8 829.5,342.3 834.6,337.5C840.1,332.3 843.9,324.7 849.3,318.6C855.0,312.1 862.3,305.6 868.2,299.7C873.4,294.5 879.2,289.7 882.9,285.0C885.7,281.4 886.3,278.2 889.2,274.5C893.2,269.3 901.4,262.3 906.0,257.7C909.3,254.4 911.1,251.7 914.4,249.3C918.0,246.7 922.4,245.5 927.0,243.0C932.7,239.8 939.6,233.8 945.9,231.4C951.5,229.3 957.0,230.1 962.7,228.3C968.9,226.4 975.2,221.1 981.6,219.9C987.8,218.8 995.2,220.0 1000.5,220.9C1004.5,221.6 1007.5,222.5 1010.9,224.1C1014.5,225.9 1017.5,229.4 1021.4,231.4C1025.8,233.7 1031.2,233.4 1036.1,236.7C1043.1,241.4 1051.8,255.8 1057.1,259.8C1059.6,261.7 1060.7,262.4 1063.4,262.9C1067.7,263.6 1075.8,259.7 1081.0,260.8C1085.7,261.8 1089.1,264.7 1093.6,268.2C1100.0,273.3 1106.9,285.9 1114.6,290.2C1121.1,293.8 1130.7,292.7 1135.6,294.4C1138.4,295.4 1140.3,295.5 1141.9,297.6C1144.6,301.1 1144.6,311.7 1146.1,316.5C1147.1,319.6 1148.0,323.7 1149.2,323.8C1150.4,323.9 1152.1,319.5 1153.4,316.5C1155.3,312.1 1156.2,301.5 1158.7,299.7C1159.9,298.8 1161.4,299.0 1162.9,299.7C1165.9,301.0 1169.1,308.0 1173.4,311.2C1178.1,314.7 1184.5,317.7 1190.2,319.6C1195.7,321.5 1201.6,322.9 1207.0,322.8C1212.1,322.7 1217.1,318.9 1221.7,319.6C1226.2,320.3 1230.5,327.5 1234.3,327.0C1238.2,326.5 1240.6,319.4 1244.8,316.5C1249.5,313.3 1255.9,310.7 1261.6,309.1C1267.1,307.6 1273.6,308.8 1278.4,307.0C1282.5,305.4 1284.8,302.0 1288.9,299.7C1294.1,296.7 1302.0,293.8 1307.7,291.3C1312.3,289.3 1316.0,286.3 1320.3,286.0C1324.5,285.7 1329.8,287.4 1333.0,289.2C1335.4,290.6 1336.5,292.1 1338.4,294.6C1341.6,298.8 1345.2,307.7 1348.9,313.5C1352.3,318.8 1356.1,323.5 1359.4,328.2C1362.4,332.5 1364.8,336.5 1367.8,340.8C1371.1,345.5 1375.1,350.5 1378.3,355.5C1381.4,360.3 1384.6,365.2 1386.7,370.2C1388.7,375.0 1388.4,382.3 1390.9,384.9C1392.5,386.6 1395.5,385.3 1397.2,387.0C1399.8,389.6 1400.5,397.4 1402.4,401.7C1404.0,405.3 1405.4,410.2 1407.7,411.1C1409.5,411.8 1411.9,408.4 1414.0,409.0C1416.9,409.8 1419.9,415.1 1422.4,418.5C1424.8,421.8 1426.8,425.8 1428.7,429.0C1430.3,431.6 1431.1,436.1 1432.9,436.3C1435.1,436.6 1438.8,427.8 1441.3,427.9C1443.6,428.0 1445.5,432.7 1447.6,435.3C1449.7,438.0 1451.1,441.8 1453.9,443.7C1456.7,445.7 1460.8,445.3 1464.4,446.8C1468.5,448.6 1473.8,450.9 1477.0,454.2C1480.0,457.3 1481.0,465.6 1483.3,465.7C1485.8,465.8 1488.9,455.7 1491.7,452.1C1493.8,449.4 1495.9,445.5 1498.0,445.7C1500.8,446.0 1503.8,457.7 1506.4,458.4C1507.9,458.8 1509.3,457.8 1510.6,456.2C1513.4,452.7 1513.8,437.6 1516.9,433.2C1518.7,430.7 1521.1,428.7 1523.2,429.0C1526.0,429.4 1528.8,439.5 1531.6,439.5C1534.4,439.5 1537.1,432.2 1540.0,429.0C1542.7,426.0 1545.4,421.3 1548.4,420.6C1551.0,420.0 1554.5,421.4 1556.7,423.7C1560.0,427.0 1561.1,434.8 1563.0,441.5C1565.4,450.0 1567.4,462.2 1569.3,470.9C1570.8,477.9 1572.1,489.8 1573.5,489.8C1574.9,489.8 1576.4,478.1 1577.7,470.9C1579.4,461.4 1579.5,445.0 1582.0,437.4C1583.4,433.1 1585.5,427.9 1587.2,427.9C1588.9,427.9 1591.1,434.9 1592.4,437.4C1593.3,439.0 1593.4,440.2 1594.5,441.5C1595.9,443.3 1599.2,444.1 1600.8,446.8C1603.4,451.1 1603.8,459.8 1605.0,466.8C1606.3,474.4 1607.1,482.9 1608.2,490.9"/>
</g>
<g font-family="'Liberation Serif','Times New Roman',serif" font-weight="bold" fill="#000">
<text x="143.2" y="477.0" font-size="62.5">0.42</text>
</g>
<line x1="244.5" y1="48.0" x2="244.5" y2="1227" stroke="#A0A0A0" stroke-width="8.8" stroke-dasharray="33.8 29.82"/>
<g font-family="'Liberation Serif','Times New Roman',serif" font-weight="bold" fill="#000">
<text x="134.3" y="150.5" font-size="62.5">0.66</text>
<text x="130.4" y="266.3" font-size="62.5">0.56</text>
<text x="142.2" y="415.7" font-size="62.5">0.45</text>
<text x="143.2" y="634.7" font-size="62.5">0.40</text>
<text x="243.0" y="1325.3" font-size="62.5" text-anchor="middle">1200</text>
<text x="413.5" y="1325.3" font-size="62.5" text-anchor="middle">1100</text>
<text x="584.0" y="1325.3" font-size="62.5" text-anchor="middle">1000</text>
<text x="754.5" y="1325.3" font-size="62.5" text-anchor="middle">900</text>
<text x="925.0" y="1325.3" font-size="62.5" text-anchor="middle">800</text>
<text x="1095.5" y="1325.3" font-size="62.5" text-anchor="middle">700</text>
<text x="1266.0" y="1325.3" font-size="62.5" text-anchor="middle">600</text>
<text x="1436.5" y="1325.3" font-size="62.5" text-anchor="middle">500</text>
<text x="1607.0" y="1325.3" font-size="62.5" text-anchor="middle">400</text>
<text x="448.8" y="227.0" font-size="62" textLength="117.99" lengthAdjust="spacing">[SiO</text>
<text x="565.8" y="242.5" font-size="41.5">4</text>
<text x="586.9" y="227.0" font-size="62" textLength="316.12" lengthAdjust="spacing">]-tetrahedra</text>
<text x="974.8" y="121.6" font-size="62" textLength="129.08" lengthAdjust="spacing">[AlO</text>
<text x="1101.7" y="137.5" font-size="41.5">4</text>
<text x="1124.3" y="121.6" font-size="62" textLength="314.92" lengthAdjust="spacing">]-tetrahedra</text>
<text x="1167.7" y="285.0" font-size="62" textLength="209.43" lengthAdjust="spacing">[T-O-T]</text>
<text x="1398.3" y="285.0" font-size="62" textLength="209.37" lengthAdjust="spacing">bending</text>
<text x="582.3" y="1386.0" font-size="76" textLength="556.07" lengthAdjust="spacing">Wavenumber(cm</text>
<text x="1139.7" y="1354.6" font-size="49" textLength="42.43" lengthAdjust="spacing">-1</text>
<text x="1183.5" y="1386.0" font-size="76">)</text>
<text transform="translate(79,993) rotate(-90)" x="0" y="0" font-size="76" textLength="641.50" lengthAdjust="spacing">Transmittance(a.u.)</text>
</g>
<g fill="none" stroke-width="8.8" stroke-dasharray="33.8 29.82" stroke="#808080">
<line x1="1004.6" y1="117.1" x2="961.3" y2="1232.4"/>
<line x1="1315.6" y1="130.1" x2="1352.3" y2="1246.5"/>
</g>
<line x1="273.0" y1="128.0" x2="973.6" y2="128.5" stroke="#000" stroke-width="5"/><polygon points="1004.8,128.5 965.8,139.7 965.8,117.3" fill="#000"/><polygon points="241.8,128.0 280.8,116.8 280.8,139.2" fill="#000"/>
<line x1="1037.3" y1="202.2" x2="1283.1" y2="202.2" stroke="#000" stroke-width="5"/><polygon points="1315.1,202.2 1275.1,213.4 1275.1,191.0" fill="#000"/><polygon points="1005.3,202.2 1045.3,191.0 1045.3,213.4" fill="#000"/>
<line x1="632.5" y1="418.0" x2="596.7" y2="1133.6" stroke="#000" stroke-width="3"/><polygon points="595.3,1162.4 586.8,1125.9 607.4,1127.0" fill="#000"/>
<line x1="1431.8" y1="299.8" x2="1487.6" y2="394.7" stroke="#000" stroke-width="3.4"/><polygon points="1502.2,419.5 1475.2,393.6 1492.7,383.3" fill="#000"/>
</svg></body></html>
